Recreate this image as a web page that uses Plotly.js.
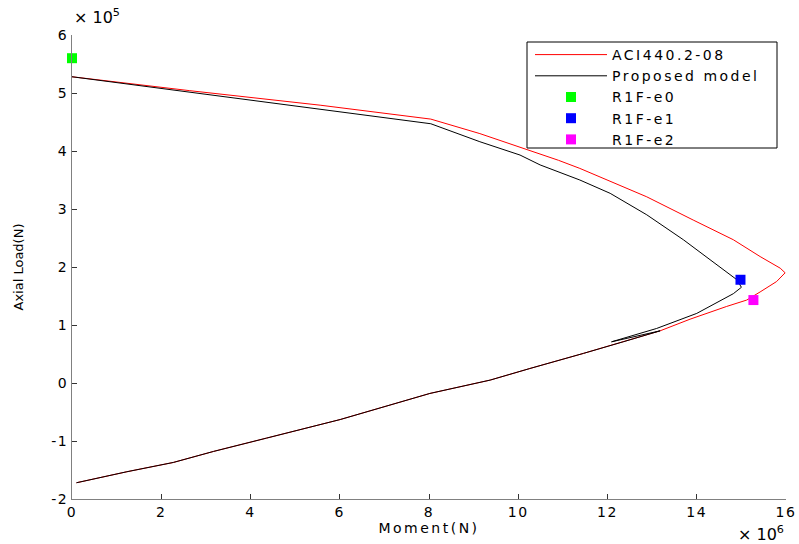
<!DOCTYPE html>
<html><head><meta charset="utf-8">
<script src="https://cdn.plot.ly/plotly-3.0.1.min.js"></script>
<style>
html,body{margin:0;padding:0;background:#fff}#chart{width:799px;height:544px}
.legendtext{letter-spacing:2.5px}
#chart .xtick text,#chart .ytick text{letter-spacing:1.5px}
#chart .xtitle{letter-spacing:2.5px}
</style>
</head><body><div id="chart"></div>
<script>
// Moment in units of 1e6, axial load in units of 1e5
const aciMoment = [0, 2.64, 5.56, 8.04, 9.14, 10.19, 10.9, 11.38, 12.88, 13.92, 14.82, 15.42, 15.87, 15.98, 15.79, 15.42, 15.12, 14.67, 13.85, 13.18, 12.35, 11.61, 11.46, 10.26, 9.37, 8.02, 6.83, 6.01, 4.36, 3.17, 2.27, 1.23, 0.1];
const aciLoad   = [5.28, 5.04, 4.79, 4.55, 4.30, 4.03, 3.84, 3.70, 3.21, 2.81, 2.47, 2.18, 1.98, 1.90, 1.75, 1.57, 1.43, 1.32, 1.10, 0.90, 0.71, 0.54, 0.51, 0.25, 0.05, -0.18, -0.44, -0.63, -0.95, -1.18, -1.37, -1.53, -1.72];

const propMoment = [0, 5.56, 8.04, 9.14, 10.04, 10.49, 11.38, 12.06, 12.88, 13.70, 14.30, 14.90, 15.0, 14.82, 14.0, 13.10, 12.09, 13.18, 12.35, 11.61, 11.46, 10.26, 9.37, 8.02, 6.83, 6.01, 4.36, 3.17, 2.27, 1.23, 0.1];
const propLoad   = [5.28, 4.72, 4.47, 4.16, 3.93, 3.76, 3.50, 3.27, 2.90, 2.47, 2.12, 1.78, 1.65, 1.54, 1.20, 0.94, 0.71, 0.90, 0.71, 0.54, 0.51, 0.25, 0.05, -0.18, -0.44, -0.63, -0.95, -1.18, -1.37, -1.53, -1.72];

const testNames  = ['R1F-e0', 'R1F-e1', 'R1F-e2'];
const testMoment = [0.0, 14.98, 15.27];
const testLoad   = [5.60, 1.78, 1.43];
const testColors = ['#00ff00', '#0000ff', '#ff00ff'];

const xTicks = [0, 2, 4, 6, 8, 10, 12, 14, 16];
const yTicks = [-2, -1, 0, 1, 2, 3, 4, 5, 6];

const traces = [
  {x: aciMoment, y: aciLoad, mode: 'lines', name: 'ACI440.2-08', line: {color: '#ff0000', width: 1}},
  {x: propMoment, y: propLoad, mode: 'lines', name: 'Proposed model', line: {color: '#000000', width: 1}}
];
for (let i = 0; i < testNames.length; i++) {
  traces.push({x: [testMoment[i]], y: [testLoad[i]], mode: 'markers', name: testNames[i],
    marker: {symbol: 'square', size: 10, color: testColors[i], line: {width: 0}}, cliponaxis: false});
}

const FF = 'DejaVu Sans, Liberation Sans, Arial, sans-serif';
const f = (s) => ({family: FF, size: s, color: '#000'});
const px2x = (p) => (p - 72) / 714;
const px2y = (p) => (499 - p) / 464;

const layout = {
  width: 799, height: 544,
  margin: {l: 72, r: 13, t: 35, b: 45},
  paper_bgcolor: '#fff', plot_bgcolor: '#fff',
  showlegend: true,
  legend: {x: px2x(530), y: px2y(39), xanchor: 'left', yanchor: 'top',
    bgcolor: 'rgba(0,0,0,0)', borderwidth: 0, itemwidth: 72,
    font: f(14), tracegroupgap: 0},
  xaxis: {range: [0, 16], tickvals: xTicks, ticktext: xTicks.map(String),
    showgrid: false, zeroline: false, showline: true, linecolor: '#808080', linewidth: 1,
    ticks: 'inside', ticklen: 5, tickcolor: '#333',
    tickfont: f(14),
    title: {text: 'Moment(N)', font: f(14), standoff: 3}},
  yaxis: {range: [-2, 6], tickvals: yTicks, ticktext: yTicks.map(String),
    showgrid: false, zeroline: false, showline: true, linecolor: '#808080', linewidth: 1,
    ticks: 'inside', ticklen: 5, tickcolor: '#333',
    tickfont: f(14),
    title: {text: 'Axial Load(N)', font: f(13), standoff: 27}},
  shapes: [
    {type: 'rect', xref: 'paper', yref: 'paper', layer: 'above',
      x0: px2x(527), x1: px2x(777), y0: px2y(148), y1: px2y(42),
      fillcolor: '#fff', line: {color: '#000', width: 1}}
  ],
  annotations: [
    {xref: 'paper', yref: 'paper', x: 0, y: 1.0, xanchor: 'left', yanchor: 'bottom', yshift: 6,
      text: '× 10<sup>5</sup>', showarrow: false, font: f(16)},
    {xref: 'paper', yref: 'paper', x: 1.0, y: 0, xanchor: 'right', yanchor: 'bottom', yshift: -47,
      text: '× 10<sup>6</sup>', showarrow: false, font: f(16)}
  ]
};
Plotly.newPlot('chart', traces, layout, {displayModeBar: false, staticPlot: true});
</script></body></html>
